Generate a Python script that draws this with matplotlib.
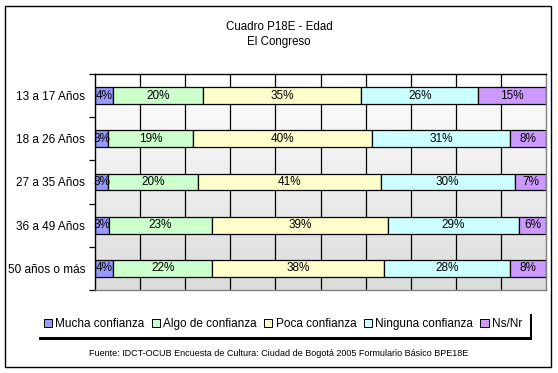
import numpy as np
import matplotlib
matplotlib.use("Agg")
import matplotlib.pyplot as plt
from matplotlib.patches import Patch, Rectangle

plt.rcParams['font.family'] = ['Liberation Sans', 'DejaVu Sans']

categorias = ["13 a 17 Años", "18 a 26 Años", "27 a 35 Años", "36 a 49 Años", "50 años o más"]
series = ["Mucha confianza", "Algo de confianza", "Poca confianza", "Ninguna confianza", "Ns/Nr"]
mucha = [4, 3, 3, 3, 4]
algo = [20, 19, 20, 23, 22]
poca = [35, 40, 41, 39, 38]
ninguna = [26, 31, 30, 29, 28]
nsnr = [15, 8, 7, 6, 8]
colores = ["#9999FF", "#CCFFCC", "#FFFFCC", "#CCFFFF", "#CC99FF"]

W, H = 558, 373
fig = plt.figure(figsize=(W / 100, H / 100), dpi=100)
fig.patch.set_facecolor("white")

# marco exterior
fig.patches.append(Rectangle((5 / W, 6 / H), 546 / W, 361 / H, transform=fig.transFigure,
                             fill=False, edgecolor="black", linewidth=1))

ax = fig.add_axes([95 / W, (H - 290) / H, 451 / W, 216 / H])

datos = np.array([mucha, algo, poca, ninguna, nsnr], dtype=float)
pct = datos / datos.sum(axis=0) * 100
y = np.arange(len(categorias))

# fondo degradado
grad = np.linspace(0, 1, 256).reshape(-1, 1)
cmap = matplotlib.colors.LinearSegmentedColormap.from_list("g", ["#FFFFFF", "#DCDCDC"])
ax.imshow(grad, aspect="auto", cmap=cmap, extent=[0, 100, 4.5, -0.5], zorder=0)

for g in range(10, 100, 10):
    ax.axvline(g, color="black", linewidth=0.9, zorder=1)

izq = np.zeros(len(categorias))
for i, nombre in enumerate(series):
    ax.barh(y, pct[i], left=izq, height=0.39, color=colores[i], edgecolor="black",
            linewidth=0.9, zorder=2, label=nombre)
    for j in range(len(categorias)):
        ax.text(izq[j] + pct[i][j] / 2, y[j], f"{int(datos[i][j])}%", ha="center", va="center",
                fontsize=8.5, zorder=3)
    izq += pct[i]

ax.set_xlim(0, 100)
ax.set_ylim(4.5, -0.5)
ax.set_xticks([])
ax.set_yticks(y)
ax.set_yticklabels(categorias, fontsize=8.5)
ax.set_yticks(np.arange(-0.5, 5, 1), minor=True)
ax.tick_params(axis="y", which="major", length=0, pad=7)
ax.tick_params(axis="y", which="minor", length=4, direction="out", width=0.9)
ax.spines["left"].set_color("black")
ax.spines["top"].set_color("black")
ax.spines["right"].set_color("#808080")
ax.spines["bottom"].set_color("#808080")
for s in ax.spines.values():
    s.set_linewidth(1)

fig.text(0.5, 1 - 27 / H, "Cuadro P18E - Edad", ha="center", va="center", fontsize=8.3)
fig.text(0.5, 1 - 42 / H, "El Congreso", ha="center", va="center", fontsize=8.3)

handles = [Patch(facecolor=c, edgecolor="black", linewidth=0.7) for c in colores]
leg = fig.legend(handles, series, loc="center", bbox_to_anchor=(283 / W, 1 - 324 / H),
                 ncol=5, fontsize=8.5, frameon=True, fancybox=False, handlelength=0.7,
                 handleheight=0.7, handletextpad=0.3, columnspacing=0.6, borderpad=0.6,
                 shadow={"color": "black", "alpha": 1})
leg.get_frame().set_edgecolor("white")
leg.get_frame().set_linewidth(0)

fig.text(0.5, 1 - 353 / H,
         "Fuente: IDCT-OCUB Encuesta de Cultura: Ciudad de Bogotá 2005 Formulario Básico BPE18E",
         ha="center", va="center", fontsize=6.5)

fig.savefig("out.png", dpi=100)
